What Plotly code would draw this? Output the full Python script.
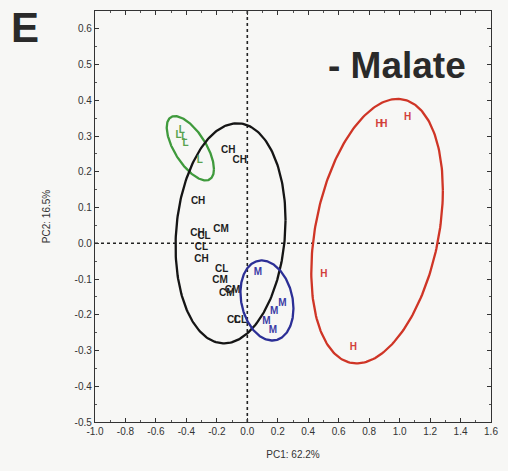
import numpy as np
import plotly.graph_objects as go

# ---- data (PC1, PC2 scores) ----
L_x = [-0.452, -0.430, -0.413, -0.405, -0.312]
L_y = [0.303, 0.315, 0.296, 0.279, 0.231]

C_labels = ["CH", "CH", "CH", "CH", "CL", "CM", "CL", "CH", "CL", "CM", "CM", "CM", "CL", "CL"]
C_x = [-0.125, -0.050, -0.323, -0.327, -0.284, -0.172, -0.301, -0.301, -0.168, -0.179, -0.097, -0.135, -0.090, -0.045]
C_y = [0.259, 0.231, 0.116, 0.027, 0.018, 0.039, -0.012, -0.045, -0.074, -0.105, -0.132, -0.140, -0.216, -0.216]

M_x = [0.069, 0.176, 0.230, 0.125, 0.168]
M_y = [-0.083, -0.190, -0.169, -0.220, -0.244]

H_x = [0.865, 0.897, 1.052, 0.503, 0.697]
H_y = [0.333, 0.333, 0.353, -0.087, -0.291]

# ellipses: center x, center y, half-width x, half-height y, correlation
ell_green = [-0.374, 0.266, 0.155, 0.090, -0.65]
ell_black = [-0.110, 0.028, 0.361, 0.308, 0.12]
ell_blue = [0.129, -0.160, 0.174, 0.112, -0.2]
ell_red = [0.852, 0.034, 0.432, 0.370, 0.31]

x_ticks = [-1.0, -0.8, -0.6, -0.4, -0.2, 0.0, 0.2, 0.4, 0.6, 0.8, 1.0, 1.2, 1.4, 1.6]
y_ticks = [0.6, 0.5, 0.4, 0.3, 0.2, 0.1, 0.0, -0.1, -0.2, -0.3, -0.4, -0.5]

FONT = "Liberation Sans, Arial, sans-serif"


def ellipse(p):
    cx, cy, w, h, r = p
    t = np.linspace(0, 2 * np.pi, 240)
    return cx + w * np.cos(t), cy + h * (r * np.cos(t) + np.sqrt(1 - r * r) * np.sin(t))


fig = go.Figure()

for p, col in [(ell_green, "#3f9a3c"), (ell_black, "#151515"), (ell_blue, "#2c2f96"), (ell_red, "#cf3526")]:
    ex, ey = ellipse(p)
    fig.add_trace(go.Scatter(x=ex, y=ey, mode="lines", line=dict(color=col, width=2.3),
                             hoverinfo="skip", showlegend=False))


def labels(xs, ys, txt, col):
    fig.add_trace(go.Scatter(x=xs, y=ys, mode="text", text=[f"<b>{t}</b>" for t in txt],
                             textfont=dict(family=FONT, size=10, color=col),
                             textposition="middle center", showlegend=False))


labels(L_x, L_y, ["L"] * len(L_x), "#58a24e")
labels(C_x, C_y, C_labels, "#1e1e1e")
labels(M_x, M_y, ["M"] * len(M_x), "#3b3ca6")
labels(H_x, H_y, ["H"] * len(H_x), "#d2403a")

# dotted reference lines
fig.add_shape(type="line", x0=0, x1=0, y0=0, y1=1, xref="x", yref="paper",
              line=dict(color="#222", width=1.6, dash="dot"), layer="below")
fig.add_shape(type="line", x0=0, x1=1, y0=0, y1=0, xref="paper", yref="y",
              line=dict(color="#222", width=1.6, dash="dot"), layer="below")

axis_common = dict(showgrid=False, zeroline=False, showline=True, linecolor="#333", linewidth=1.4,
                   mirror="ticks", ticks="inside", ticklen=4, tickwidth=1, tickcolor="#333",
                   tickfont=dict(family=FONT, size=10, color="#333"))

fig.update_xaxes(range=[-1.0, 1.6], tickvals=x_ticks, ticktext=[f"{v:.1f}" for v in x_ticks],
                 minor=dict(dtick=0.1, ticks="inside", ticklen=2, tickcolor="#555", showgrid=False),
                 title=dict(text="PC1: 62.2%", font=dict(family=FONT, size=10, color="#333"), standoff=14),
                 **axis_common)
fig.update_yaxes(range=[-0.5, 0.65], tickvals=y_ticks, ticktext=[f"{v:.1f}" for v in y_ticks],
                 minor=dict(dtick=0.05, ticks="inside", ticklen=2, tickcolor="#555", showgrid=False),
                 title=dict(text="PC2: 16.5%", font=dict(family=FONT, size=10, color="#333"), standoff=22),
                 **axis_common)

fig.add_annotation(text="<b>E</b>", x=24, y=28, xref="paper", yref="paper", showarrow=False,
                   font=dict(family=FONT, size=42, color="#2a2a2a"))
fig.add_annotation(text="<b>- Malate</b>", x=402, y=66, xref="paper", yref="paper", showarrow=False,
                   font=dict(family=FONT, size=37, color="#2a2a2a"))

fig.update_layout(width=508, height=471, margin=dict(l=95, r=10, t=11, b=49),
                  paper_bgcolor="#f7f7f5", plot_bgcolor="#f7f7f5", showlegend=False)

# convert the two pixel-placed annotations to paper coordinates
pw, ph = 508 - 95 - 10, 471 - 11 - 49
for a in fig.layout.annotations:
    a.x = (a.x - 95) / pw
    a.y = 1 - (a.y - 11) / ph
    a.xanchor = "center"
    a.yanchor = "middle"

fig.write_html("out.html")
